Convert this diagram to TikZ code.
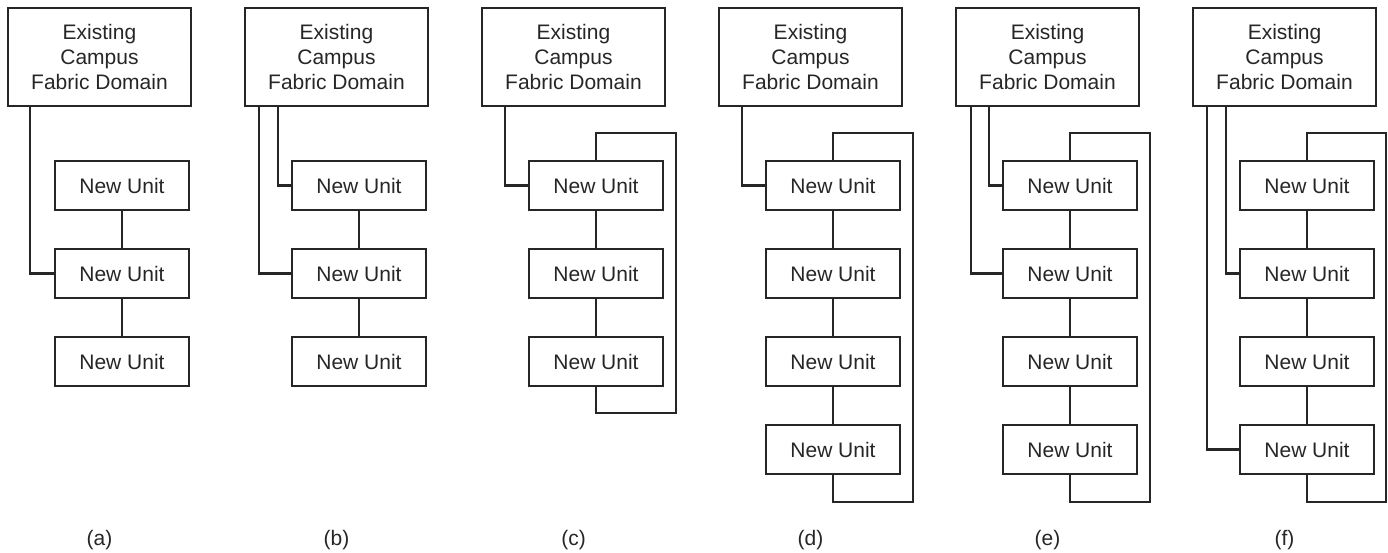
\documentclass[tikz,border=0pt]{standalone}
\usepackage{fontspec}
\setmainfont{Liberation Sans}
\begin{document}
\begin{tikzpicture}[x=1pt,y=-1pt,
  every node/.style={font=\fontsize{21}{25}\selectfont, text=black!85},
  topbox/.style={draw=black!85, line width=2.1pt, minimum width=183pt, minimum height=98pt, align=center, inner sep=0pt},
  unitbox/.style={draw=black!85, line width=2.1pt, minimum width=134pt, minimum height=49pt, inner sep=0pt},
  wire/.style={draw=black!85, line width=2.1pt},
  lbl/.style={font=\fontsize{21}{24}\selectfont}]
\useasboundingbox (0,0) rectangle (1388,552);

% ---------- (a) L=8
\node[topbox] (a-t) at (99.5,57) {Existing\\Campus\\Fabric Domain};
\node[unitbox] (a-1) at (122,185.5) {New Unit};
\node[unitbox] (a-2) at (122,273.5) {New Unit};
\node[unitbox] (a-3) at (122,361.5) {New Unit};
\coordinate (a-c) at (30,106);
\draw[wire] (a-c) |- (a-2.west);
\draw[wire] (a-1) -- (a-2);
\draw[wire] (a-2) -- (a-3);
\node[lbl] (a-l) at (99.5,540) {(a)};

% ---------- (b) L=245
\node[topbox] (b-t) at (336.5,57) {Existing\\Campus\\Fabric Domain};
\node[unitbox] (b-1) at (359,185.5) {New Unit};
\node[unitbox] (b-2) at (359,273.5) {New Unit};
\node[unitbox] (b-3) at (359,361.5) {New Unit};
\coordinate (b-ci) at (278,106);
\coordinate (b-co) at (259,106);
\draw[wire] (b-ci) |- (b-1.west);
\draw[wire] (b-co) |- (b-2.west);
\draw[wire] (b-1) -- (b-2);
\draw[wire] (b-2) -- (b-3);
\node[lbl] (b-l) at (336.5,540) {(b)};

% ---------- (c) L=482
\node[topbox] (c-t) at (573.5,57) {Existing\\Campus\\Fabric Domain};
\node[unitbox] (c-1) at (596,185.5) {New Unit};
\node[unitbox] (c-2) at (596,273.5) {New Unit};
\node[unitbox] (c-3) at (596,361.5) {New Unit};
\coordinate (c-c) at (505,106);
\coordinate (c-tr) at (676,133);
\coordinate (c-br) at (676,413);
\draw[wire] (c-c) |- (c-1.west);
\draw[wire] (c-1) -- (c-2);
\draw[wire] (c-2) -- (c-3);
\draw[wire] (c-1.north) |- (c-tr) -- (c-br) -| (c-3.south);
\node[lbl] (c-l) at (573.5,540) {(c)};

% ---------- (d) L=719
\node[topbox] (d-t) at (810.5,57) {Existing\\Campus\\Fabric Domain};
\node[unitbox] (d-1) at (833,185.5) {New Unit};
\node[unitbox] (d-2) at (833,273.5) {New Unit};
\node[unitbox] (d-3) at (833,361.5) {New Unit};
\node[unitbox] (d-4) at (833,449.5) {New Unit};
\coordinate (d-c) at (742,106);
\coordinate (d-tr) at (913,133);
\coordinate (d-br) at (913,502);
\draw[wire] (d-c) |- (d-1.west);
\draw[wire] (d-1) -- (d-2);
\draw[wire] (d-2) -- (d-3);
\draw[wire] (d-3) -- (d-4);
\draw[wire] (d-1.north) |- (d-tr) -- (d-br) -| (d-4.south);
\node[lbl] (d-l) at (810.5,540) {(d)};

% ---------- (e) L=956
\node[topbox] (e-t) at (1047.5,57) {Existing\\Campus\\Fabric Domain};
\node[unitbox] (e-1) at (1070,185.5) {New Unit};
\node[unitbox] (e-2) at (1070,273.5) {New Unit};
\node[unitbox] (e-3) at (1070,361.5) {New Unit};
\node[unitbox] (e-4) at (1070,449.5) {New Unit};
\coordinate (e-ci) at (989,106);
\coordinate (e-co) at (971,106);
\coordinate (e-tr) at (1150,133);
\coordinate (e-br) at (1150,502);
\draw[wire] (e-ci) |- (e-1.west);
\draw[wire] (e-co) |- (e-2.west);
\draw[wire] (e-1) -- (e-2);
\draw[wire] (e-2) -- (e-3);
\draw[wire] (e-3) -- (e-4);
\draw[wire] (e-1.north) |- (e-tr) -- (e-br) -| (e-4.south);
\node[lbl] (e-l) at (1047.5,540) {(e)};

% ---------- (f) L=1193
\node[topbox] (f-t) at (1284.5,57) {Existing\\Campus\\Fabric Domain};
\node[unitbox] (f-1) at (1307,185.5) {New Unit};
\node[unitbox] (f-2) at (1307,273.5) {New Unit};
\node[unitbox] (f-3) at (1307,361.5) {New Unit};
\node[unitbox] (f-4) at (1307,449.5) {New Unit};
\coordinate (f-ci) at (1226,106);
\coordinate (f-co) at (1207,106);
\coordinate (f-tr) at (1386,133);
\coordinate (f-br) at (1386,502);
\draw[wire] (f-ci) |- (f-2.west);
\draw[wire] (f-co) |- (f-4.west);
\draw[wire] (f-1) -- (f-2);
\draw[wire] (f-2) -- (f-3);
\draw[wire] (f-3) -- (f-4);
\draw[wire] (f-1.north) |- (f-tr) -- (f-br) -| (f-4.south);
\node[lbl] (f-l) at (1284.5,540) {(f)};
\end{tikzpicture}
\end{document}
